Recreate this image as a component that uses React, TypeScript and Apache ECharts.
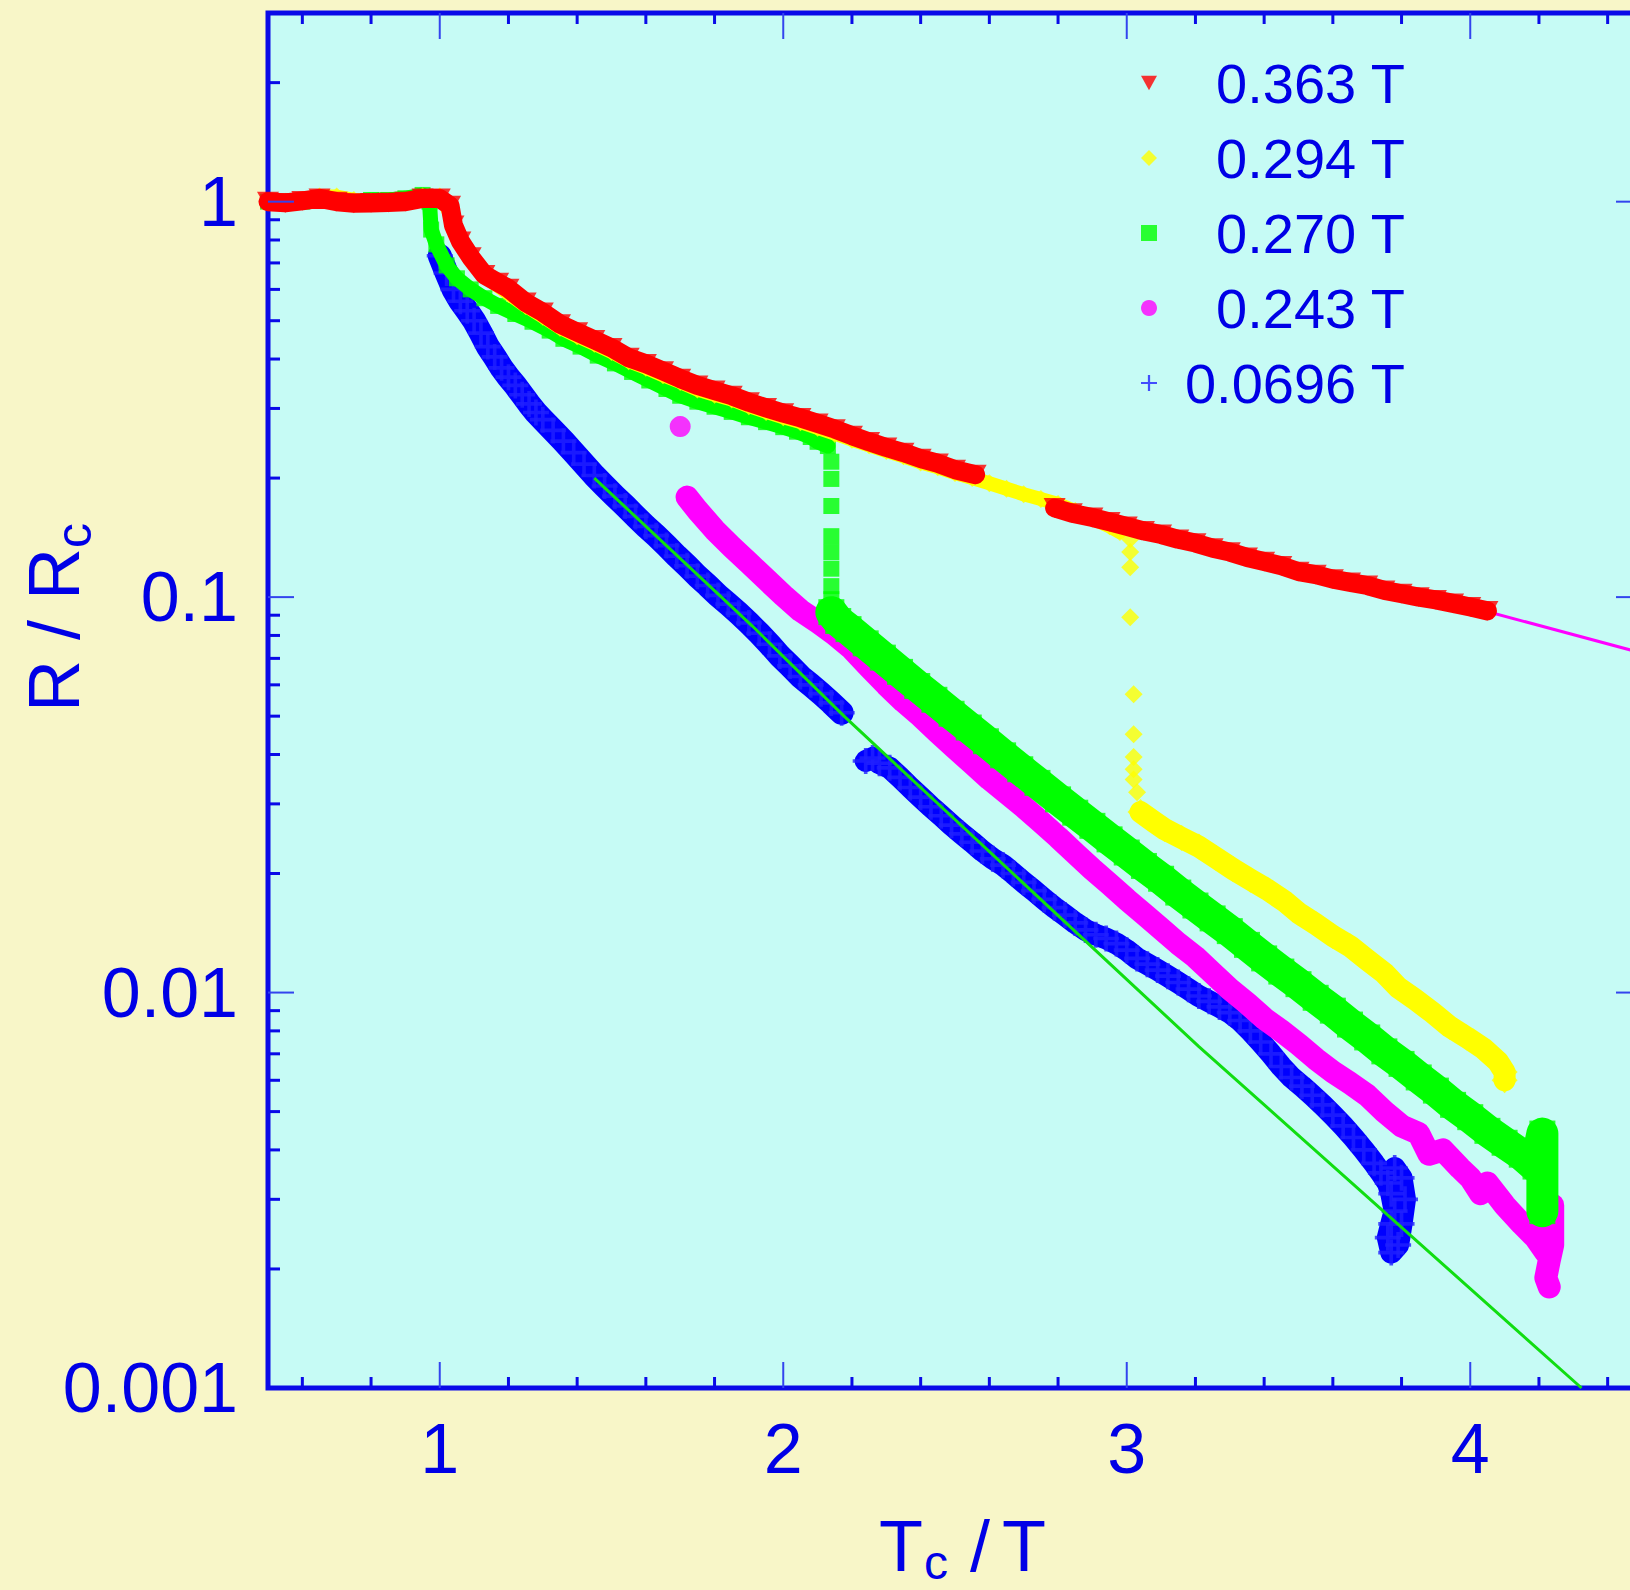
import React, { useEffect, useRef } from "react";
import * as echarts from "echarts";

const FONT = "'Liberation Sans', Arial, Helvetica, sans-serif";
const TEXT_BLUE = "#0000e6";
const AXIS_BLUE = "#0a0ae8";

// ---- axes / ticks ----
const xTickLabels = [1, 2, 3, 4];
const xMajorTicks = [1, 2, 3, 4];
const xMinorTicks = [0.6, 0.8, 1.2, 1.4, 1.6, 1.8, 2.2, 2.4, 2.6, 2.8, 3.2, 3.4, 3.6, 3.8, 4.2, 4.4];
const yTickLabels = [0.001, 0.01, 0.1, 1];
const yMajorTicks = [0.01, 0.1, 1];
const yMinorTicks = [
  0.002, 0.003, 0.004, 0.005, 0.006, 0.007, 0.008, 0.009,
  0.02, 0.03, 0.04, 0.05, 0.06, 0.07, 0.08, 0.09,
  0.2, 0.3, 0.4, 0.5, 0.6, 0.7, 0.8, 0.9,
  2, 3,
];

// ---- series names ----
const seriesNames = ["0.363 T", "0.294 T", "0.270 T", "0.243 T", "0.0696 T"];

// ---- data: [Tc/T, R/Rc] ----
const red363 = [
  [0.50, 1.000], [0.55, 0.993], [0.60, 1.005], [0.65, 1.019], [0.70, 1.000], [0.75, 0.991],
  [0.80, 0.993], [0.85, 0.995], [0.90, 1.000], [0.95, 1.019], [1.00, 1.019], [1.03, 0.977],
  [1.04, 0.871], [1.06, 0.794], [1.09, 0.724], [1.13, 0.653], [1.17, 0.624], [1.20, 0.603],
  [1.25, 0.556], [1.30, 0.525], [1.35, 0.490], [1.40, 0.468], [1.45, 0.447], [1.50, 0.427],
  [1.55, 0.403], [1.60, 0.389], [1.65, 0.373], [1.70, 0.357], [1.75, 0.343], [1.80, 0.333],
  [1.85, 0.323], [1.90, 0.311], [1.95, 0.301], [2.00, 0.292], [2.05, 0.284], [2.10, 0.275],
  [2.15, 0.266], [2.20, 0.256], [2.25, 0.247], [2.30, 0.239], [2.35, 0.232], [2.40, 0.224],
  [2.45, 0.218], [2.50, 0.210], [2.56, 0.204],
  [2.79, 0.168], [2.84, 0.163], [2.90, 0.159], [2.95, 0.155], [3.00, 0.151], [3.05, 0.147],
  [3.10, 0.144], [3.15, 0.140], [3.20, 0.137], [3.25, 0.133], [3.30, 0.130], [3.35, 0.126],
  [3.40, 0.123], [3.45, 0.120], [3.50, 0.116], [3.55, 0.114], [3.60, 0.111], [3.65, 0.109],
  [3.70, 0.107], [3.75, 0.104], [3.80, 0.102], [3.85, 0.100], [3.90, 0.0984], [3.95, 0.0964],
  [4.00, 0.0944], [4.05, 0.0923],
];

const yellow294 = [
  [0.50, 1.0], [0.55, 1.0], [0.60, 1.01], [0.65, 1.03], [0.70, 1.03], [0.75, 1.01], [0.80, 1.0],
  [0.85, 1.0], [0.90, 1.0], [0.95, 1.03], [1.00, 1.03], [1.02, 0.97], [1.04, 0.88], [1.07, 0.78],
  [1.10, 0.70], [1.15, 0.63], [1.20, 0.585], [1.25, 0.545], [1.30, 0.512], [1.35, 0.48],
  [1.40, 0.457], [1.45, 0.437], [1.50, 0.417], [1.55, 0.395], [1.60, 0.38], [1.65, 0.364],
  [1.70, 0.35], [1.75, 0.335], [1.80, 0.325], [1.85, 0.316], [1.90, 0.304], [1.95, 0.294],
  [2.00, 0.285], [2.05, 0.277], [2.10, 0.268], [2.15, 0.259], [2.20, 0.25], [2.25, 0.242],
  [2.30, 0.234], [2.35, 0.227], [2.40, 0.219], [2.45, 0.213], [2.50, 0.206], [2.55, 0.2],
  [2.60, 0.194], [2.65, 0.188], [2.70, 0.182], [2.75, 0.177], [2.80, 0.172], [2.85, 0.165],
  [2.90, 0.158], [2.95, 0.151], [2.98, 0.146], [3.01, 0.140], [3.01, 0.130], [3.01, 0.119],
  [3.01, 0.089], [3.02, 0.0568], [3.02, 0.045], [3.02, 0.0394], [3.02, 0.0367], [3.02, 0.0346],
  [3.03, 0.0321], [3.04, 0.0286], [3.08, 0.0270], [3.11, 0.0259], [3.16, 0.0246], [3.21, 0.0234],
  [3.26, 0.0219], [3.31, 0.0205], [3.36, 0.0193], [3.41, 0.0182], [3.46, 0.0170], [3.50, 0.0159],
  [3.55, 0.0149], [3.60, 0.0139], [3.65, 0.0131], [3.70, 0.0121], [3.75, 0.0112], [3.79, 0.0103],
  [3.84, 0.0096], [3.89, 0.0089], [3.94, 0.0082], [3.99, 0.0077], [4.04, 0.0072], [4.08, 0.0067],
  [4.10, 0.0063], [4.10, 0.0060],
];

const green270 = [
  [0.50, 1.0], [0.55, 1.0], [0.60, 1.0], [0.65, 1.02], [0.70, 1.01], [0.75, 1.0], [0.80, 1.01],
  [0.85, 1.01], [0.90, 1.02], [0.95, 1.04], [0.97, 1.0], [0.975, 0.85], [0.99, 0.78], [1.02, 0.69],
  [1.05, 0.64], [1.09, 0.60], [1.13, 0.57], [1.17, 0.545], [1.22, 0.52], [1.27, 0.497],
  [1.32, 0.472], [1.36, 0.45], [1.41, 0.43], [1.46, 0.408], [1.51, 0.39], [1.56, 0.371],
  [1.61, 0.353], [1.66, 0.336], [1.70, 0.323], [1.75, 0.312], [1.80, 0.303], [1.85, 0.294],
  [1.90, 0.285], [1.95, 0.277], [2.00, 0.269], [2.04, 0.262], [2.08, 0.254], [2.10, 0.247],
  [2.13, 0.241], [2.14, 0.220], [2.14, 0.199], [2.14, 0.170], [2.14, 0.1426], [2.14, 0.130],
  [2.14, 0.118], [2.14, 0.1066], [2.14, 0.0988], [2.14, 0.0916], [2.16, 0.087], [2.19, 0.083],
  [2.24, 0.0764], [2.29, 0.0703], [2.34, 0.0647], [2.39, 0.0596], [2.44, 0.055], [2.49, 0.0507],
  [2.54, 0.0468], [2.59, 0.0432], [2.64, 0.0398], [2.69, 0.0367], [2.74, 0.0339], [2.80, 0.0308],
  [2.85, 0.0285], [2.90, 0.0264], [2.95, 0.0244], [3.00, 0.0226], [3.05, 0.0209], [3.10, 0.0194],
  [3.15, 0.0179], [3.20, 0.0166], [3.25, 0.0154], [3.30, 0.0143], [3.35, 0.0132], [3.40, 0.0122],
  [3.45, 0.0113], [3.50, 0.0105], [3.55, 0.0097], [3.60, 0.0090], [3.65, 0.0083], [3.70, 0.0077],
  [3.75, 0.0071], [3.80, 0.0066], [3.85, 0.0061], [3.90, 0.00565], [3.95, 0.0052], [4.00, 0.00484],
  [4.05, 0.00447], [4.10, 0.00417], [4.15, 0.00389], [4.19, 0.00363], [4.21, 0.0044], [4.21, 0.0040],
  [4.21, 0.0036], [4.21, 0.0033], [4.21, 0.0030], [4.21, 0.0028],
];

const magenta243 = [
  [1.70, 0.270],
  [1.72, 0.179], [1.75, 0.166], [1.80, 0.148], [1.85, 0.134], [1.90, 0.122], [1.95, 0.111],
  [2.00, 0.101], [2.05, 0.0925], [2.10, 0.0865], [2.15, 0.0805], [2.20, 0.0740], [2.25, 0.0665],
  [2.30, 0.0600], [2.35, 0.0545], [2.40, 0.0500], [2.45, 0.0455], [2.50, 0.0415], [2.55, 0.0380],
  [2.60, 0.0347], [2.65, 0.0320], [2.70, 0.0295], [2.75, 0.0270], [2.80, 0.0247], [2.85, 0.0225],
  [2.90, 0.0205], [2.95, 0.0188], [3.00, 0.0172], [3.05, 0.0158], [3.10, 0.0145], [3.15, 0.0133],
  [3.20, 0.0123], [3.25, 0.0112], [3.30, 0.0102], [3.35, 0.0094], [3.40, 0.0086], [3.45, 0.0080],
  [3.50, 0.0074], [3.55, 0.0068], [3.60, 0.0063], [3.65, 0.0059], [3.70, 0.0055], [3.75, 0.0050],
  [3.80, 0.0046], [3.85, 0.0044], [3.88, 0.0039], [3.92, 0.0040], [3.97, 0.0036], [4.00, 0.0034],
  [4.03, 0.0031], [4.05, 0.0033], [4.10, 0.0029], [4.15, 0.0026], [4.19, 0.0024], [4.22, 0.0022],
  [4.24, 0.0029], [4.24, 0.0026], [4.24, 0.0023], [4.23, 0.0021], [4.22, 0.0019], [4.23, 0.0018],
];

const blue0696 = [
  [1.00, 0.73], [1.02, 0.66], [1.04, 0.60], [1.06, 0.56], [1.08, 0.53], [1.10, 0.50], [1.12, 0.465],
  [1.14, 0.43], [1.16, 0.405], [1.18, 0.38], [1.20, 0.36], [1.22, 0.343], [1.24, 0.325], [1.26, 0.308],
  [1.28, 0.293], [1.30, 0.281], [1.33, 0.264], [1.36, 0.248], [1.39, 0.232], [1.42, 0.217],
  [1.45, 0.203], [1.48, 0.191], [1.51, 0.180], [1.54, 0.170], [1.57, 0.160], [1.60, 0.151],
  [1.63, 0.143], [1.66, 0.135], [1.69, 0.127], [1.72, 0.120], [1.75, 0.113], [1.78, 0.107],
  [1.81, 0.101], [1.84, 0.096], [1.87, 0.091], [1.90, 0.086], [1.93, 0.081], [1.96, 0.076],
  [1.99, 0.071], [2.02, 0.067], [2.05, 0.063], [2.08, 0.060], [2.11, 0.057], [2.14, 0.054],
  [2.17, 0.051],
  [2.24, 0.0385], [2.26, 0.0392], [2.28, 0.0380], [2.31, 0.0370], [2.34, 0.0350], [2.37, 0.0330],
  [2.40, 0.0312], [2.43, 0.0295], [2.46, 0.0280], [2.49, 0.0265], [2.52, 0.0252], [2.55, 0.0240],
  [2.58, 0.0228], [2.61, 0.0218], [2.64, 0.0210], [2.67, 0.0200], [2.70, 0.0190], [2.73, 0.0181],
  [2.76, 0.0172], [2.79, 0.0164], [2.82, 0.0157], [2.85, 0.0150], [2.88, 0.0144], [2.91, 0.0140],
  [2.94, 0.0137], [2.97, 0.0133], [3.00, 0.0128], [3.03, 0.0122], [3.06, 0.0118], [3.09, 0.0114],
  [3.12, 0.0110], [3.15, 0.0106], [3.18, 0.0102], [3.21, 0.0098], [3.24, 0.0095], [3.27, 0.0092],
  [3.30, 0.0089], [3.33, 0.0085], [3.36, 0.0080], [3.39, 0.0075], [3.42, 0.0070], [3.45, 0.0065],
  [3.48, 0.0061], [3.51, 0.0058], [3.54, 0.0055], [3.57, 0.0052], [3.60, 0.0049], [3.63, 0.0046],
  [3.66, 0.0043], [3.69, 0.0040], [3.72, 0.0037], [3.74, 0.0035], [3.76, 0.0033], [3.77, 0.0031],
  [3.78, 0.0028], [3.77, 0.0026], [3.76, 0.0024], [3.77, 0.0022], [3.79, 0.0023], [3.80, 0.0026],
  [3.81, 0.0030], [3.80, 0.0034], [3.78, 0.0036],
];

// fitted lines
const fitLow = [[1.45, 0.200], [1.91, 0.0845], [2.18, 0.0497], [3.21, 0.0073], [4.324, 0.001]];
const fitHigh = [[4.0, 0.0944], [4.5, 0.0722]];

const SYM_TRI_DOWN = "path://M0,0L10,0L5,9Z";
const SYM_PLUS = "path://M4.3,0H5.7V4.3H10V5.7H5.7V10H4.3V5.7H0V4.3H4.3Z";

// portion of a series (by x range) drawn as a dense band under its markers
function band(
  name: string,
  data: number[][],
  x0: number,
  x1: number,
  width: number,
  color: string,
  z: number,
  keep?: (p: number[]) => boolean
) {
  return {
    type: "line",
    name,
    data: data.filter((p) => p[0] >= x0 && p[0] <= x1 && (!keep || keep(p))),
    showSymbol: false,
    symbol: "none",
    silent: true,
    z,
    lineStyle: { color, width, cap: "round", join: "round" },
  };
}

function tickSeries(id: string, pairs: number[][], axis: "x" | "y", len: number, width: number, color: string) {
  return {
    type: "custom",
    id,
    name: id,
    coordinateSystem: "cartesian2d",
    silent: true,
    clip: false,
    z: 20,
    data: pairs,
    renderItem: (params: any, api: any) => {
      const cs = params.coordSys;
      const p = api.coord([api.value(0), api.value(1)]);
      const style = { stroke: color, lineWidth: width };
      if (axis === "x") {
        const yb = cs.y + cs.height;
        const yt = cs.y;
        return {
          type: "group",
          children: [
            { type: "line", shape: { x1: p[0], y1: yb, x2: p[0], y2: yb - len }, style },
            { type: "line", shape: { x1: p[0], y1: yt, x2: p[0], y2: yt + len }, style },
          ],
        };
      }
      const xl = cs.x;
      const xr = cs.x + cs.width;
      return {
        type: "group",
        children: [
          { type: "line", shape: { x1: xl, y1: p[1], x2: xl + len, y2: p[1] }, style },
          { type: "line", shape: { x1: xr, y1: p[1], x2: xr - len, y2: p[1] }, style },
        ],
      };
    },
  };
}

export default function App() {
  const ref = useRef<HTMLDivElement>(null);
  useEffect(() => {
    if (!ref.current) return;
    const chart = echarts.init(ref.current, null, { renderer: "svg" });
    const RED = "#ff0000";
    const YELLOW = "#ffff00";
    const GREEN = "#00ff00";
    const MAGENTA = "#ff00ff";
    const BLUE = "#0000ff";
    const textCommon = { fontFamily: FONT, fill: TEXT_BLUE, align: "left", verticalAlign: "middle" };
    const option: any = {
      animation: false,
      backgroundColor: "#f8f6c8",
      textStyle: { fontFamily: FONT },
      grid: {
        left: 268,
        top: 13,
        width: 1374,
        height: 1375,
        outerBoundsMode: "none",
        containLabel: false,
        show: true,
        backgroundColor: "#c6fbf5",
        borderColor: AXIS_BLUE,
        borderWidth: 5,
      },
      xAxis: {
        type: "value",
        min: 0.5,
        max: 4.5,
        axisLine: { show: false },
        axisTick: { show: false },
        splitLine: { show: false },
        axisLabel: {
          customValues: xTickLabels,
          color: TEXT_BLUE,
          fontSize: 70,
          fontFamily: FONT,
          margin: 26,
        },
      },
      yAxis: {
        type: "log",
        logBase: 10,
        min: 0.001,
        max: 3,
        axisLine: { show: false },
        axisTick: { show: false },
        splitLine: { show: false },
        axisLabel: {
          customValues: yTickLabels,
          color: TEXT_BLUE,
          fontSize: 70,
          fontFamily: FONT,
          margin: 30,
          formatter: (v: number) => String(+Number(v).toPrecision(3)),
        },
      },
      legend: {
        data: seriesNames,
        orient: "vertical",
        left: 1136,
        top: 50,
        itemWidth: 16,
        itemHeight: 16,
        itemGap: 19,
        selectedMode: false,
        formatter: (n: string) => `{r|${n}}`,
        textStyle: {
          color: TEXT_BLUE,
          fontSize: 56,
          fontFamily: FONT,
          rich: {
            r: { width: 243, align: "right", fontSize: 56, lineHeight: 60, color: TEXT_BLUE, fontFamily: FONT },
          },
        },
      },
      graphic: [
        { type: "text", x: 879, y: 1546, style: { ...textCommon, text: "T", fontSize: 72 } },
        { type: "text", x: 924, y: 1562, style: { ...textCommon, text: "c", fontSize: 48 } },
        { type: "text", x: 970, y: 1546, style: { ...textCommon, text: "/", fontSize: 72 } },
        { type: "text", x: 1002, y: 1546, style: { ...textCommon, text: "T", fontSize: 72 } },
        {
          type: "group",
          x: 54,
          y: 616,
          rotation: Math.PI / 2,
          children: [
            { type: "text", x: -96, y: 0, style: { ...textCommon, text: "R / R", fontSize: 72 } },
            { type: "text", x: 68, y: 20, style: { ...textCommon, text: "c", fontSize: 50 } },
          ],
        },
      ],
      series: [
        band("blue-band-1", blue0696, 1.0, 2.17, 24, BLUE, 2),
        band("blue-band-2", blue0696, 2.24, 3.81, 22, BLUE, 2),
        {
          type: "scatter",
          name: seriesNames[4],
          data: blue0696,
          symbol: SYM_PLUS,
          symbolKeepAspect: true,
          symbolSize: 26,
          itemStyle: { color: "#2020ff" },
          z: 2,
        },
        {
          type: "line",
          name: "fit-low",
          data: fitLow,
          showSymbol: false,
          symbol: "none",
          lineStyle: { color: "#11dd11", width: 3 },
          z: 3,
          silent: true,
        },
        band("magenta-band", magenta243, 1.71, 4.25, 23, MAGENTA, 4),
        {
          type: "scatter",
          name: seriesNames[3],
          data: magenta243,
          symbol: "circle",
          symbolSize: 21,
          itemStyle: { color: MAGENTA },
          z: 4,
        },
        band("green-band-1", green270, 0.5, 2.13, 15, GREEN, 5),
        band("green-band-2", green270, 2.14, 4.21, 32, GREEN, 5, (p) => p[1] < 0.095),
        {
          type: "scatter",
          name: seriesNames[2],
          data: green270,
          symbol: "rect",
          symbolSize: (v: number[]) => (v[0] > 2.14 || (v[0] === 2.14 && v[1] < 0.095) ? 26 : 16),
          itemStyle: { color: GREEN },
          z: 5,
        },
        band("yellow-band-1", yellow294, 0.5, 2.98, 14, YELLOW, 6),
        band("yellow-band-2", yellow294, 3.035, 4.1, 22, YELLOW, 6),
        {
          type: "scatter",
          name: seriesNames[1],
          data: yellow294,
          symbol: "diamond",
          symbolSize: (v: number[]) => (v[0] > 3.03 ? 26 : 18),
          itemStyle: { color: YELLOW },
          z: 6,
        },
        {
          type: "line",
          name: "fit-high",
          data: fitHigh,
          showSymbol: false,
          symbol: "none",
          lineStyle: { color: MAGENTA, width: 3 },
          z: 6,
          silent: true,
        },
        band("red-band-1", red363, 0.5, 2.56, 19, RED, 7),
        band("red-band-2", red363, 2.79, 4.05, 19, RED, 7),
        {
          type: "scatter",
          name: seriesNames[0],
          data: red363,
          symbol: SYM_TRI_DOWN,
          symbolKeepAspect: true,
          symbolSize: 22,
          itemStyle: { color: RED },
          z: 7,
        },
        tickSeries("xMajor", xMajorTicks.map((v) => [v, 1]), "x", 26, 2, "#3344ee"),
        tickSeries("xMinor", xMinorTicks.map((v) => [v, 1]), "x", 11, 3, AXIS_BLUE),
        tickSeries("yMajor", yMajorTicks.map((v) => [1, v]), "y", 26, 2, "#3344ee"),
        tickSeries("yMinor", yMinorTicks.map((v) => [1, v]), "y", 12, 3, AXIS_BLUE),
      ],
    };
    chart.setOption(option);
    return () => chart.dispose();
  }, []);
  return <div ref={ref} style={{ position: "fixed", left: 0, top: 0, width: 1630, height: 1590 }} />;
}
